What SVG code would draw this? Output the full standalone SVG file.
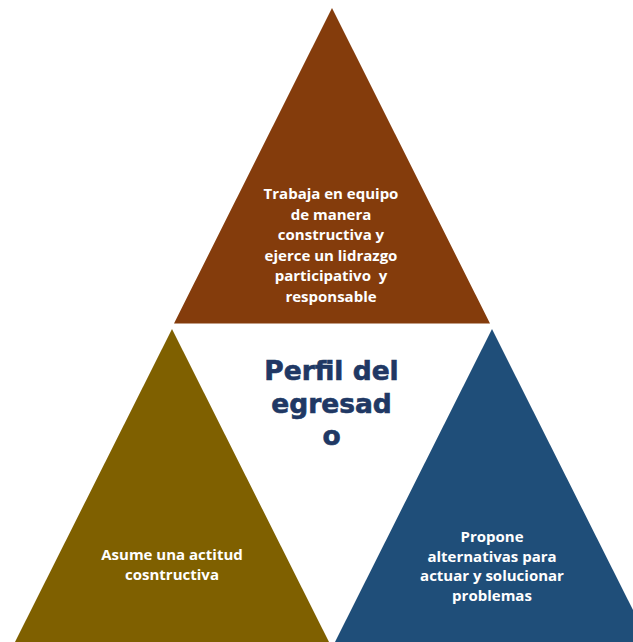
<svg xmlns="http://www.w3.org/2000/svg" width="633" height="642" viewBox="0 0 633 642">
<style>
.lbl{font-family:"Open Sans","Noto Sans",sans-serif;font-weight:bold;font-size:15px;fill:#ffffff;text-anchor:middle;white-space:pre}
.ttl{font-family:"DejaVu Sans",sans-serif;font-weight:bold;font-size:26.5px;fill:#203864;stroke:#203864;stroke-width:0.6;text-anchor:middle}
</style>
<rect width="633" height="642" fill="#ffffff"/>
<g id="top">
<polygon points="332,8 490,323.5 174,323.5" fill="#843C0C"/>
<text class="lbl"><tspan x="331" y="199">Trabaja en equipo</tspan><tspan x="331" y="219.5">de manera</tspan><tspan x="331" y="240">constructiva y</tspan><tspan x="331" y="260.5">ejerce un lidrazgo</tspan><tspan x="331" y="281">participativo  y</tspan><tspan x="331" y="301.5">responsable</tspan></text>
</g>
<g id="left">
<polygon points="172,329 329,642 15,642" fill="#7F6000"/>
<text class="lbl"><tspan x="172" y="560">Asume una actitud</tspan><tspan x="172" y="580">cosntructiva</tspan></text>
</g>
<g id="right">
<polygon points="492,329 649,642 335,642" fill="#1F4E79"/>
<text class="lbl"><tspan x="492" y="541.5">Propone</tspan><tspan x="492" y="561.5">alternativas para</tspan><tspan x="492" y="581">actuar y solucionar</tspan><tspan x="492" y="600.5">problemas</tspan></text>
</g>
<g id="center">
<text class="ttl"><tspan x="331.5" y="380">Perfil del</tspan><tspan x="331.5" y="413">egresad</tspan><tspan x="331.5" y="445">o</tspan></text>
</g>
<g id="connectors"/>
</svg>
